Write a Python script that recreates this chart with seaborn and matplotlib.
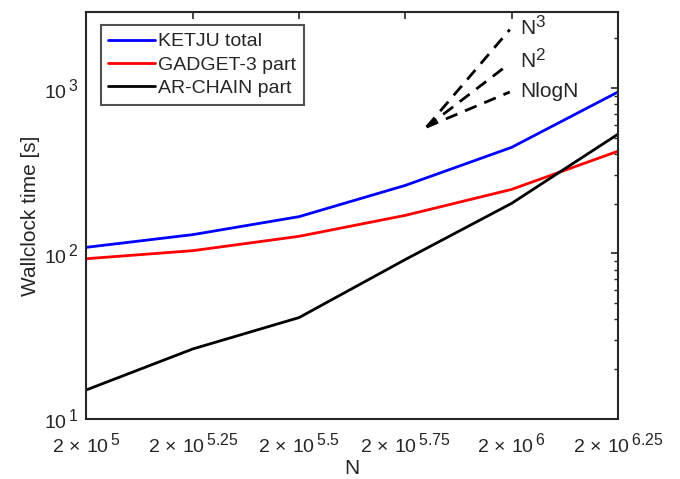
"""
KETJU wallclock scaling plot (log-log).
"""

import numpy as np
import pandas as pd
import matplotlib
matplotlib.use("Agg")
import matplotlib.pyplot as plt
import matplotlib.ticker as mticker
import matplotlib._mathtext as mathtext_internal
import seaborn as sns

# data
n_exp = [5, 5.25, 5.5, 5.75, 6, 6.25]
n_particles = [2e5, 3.557e5, 6.325e5, 1.1247e6, 2e6, 3.557e6]
ketju_total = [109, 130, 167, 258, 438, 946]
gadget_part = [93, 104, 127, 170, 244, 415]
archain_part = [15, 26.5, 41, 92, 201, 526]
series_names = ["KETJU total", "GADGET-3 part", "AR-CHAIN part"]
series_colors = ["#0000ff", "#ff0000", "#000000"]

# scaling guides (start point shared, end points per guide)
guide_x0, guide_y0 = 1.262e6, 581
n3_end = (1.98e6, 2254)
n2_end = (1.93e6, 1340)
nlogn_end = (1.98e6, 946)

sns.set_theme(style="white")
plt.rcParams["font.family"] = ["Liberation Sans", "DejaVu Sans"]
plt.rcParams["mathtext.fontset"] = "custom"
plt.rcParams["mathtext.rm"] = "Liberation Sans"
plt.rcParams["mathtext.it"] = "Liberation Sans"
# MATLAB-like superscripts are less shrunk than mathtext's default 0.7
mathtext_internal.SHRINK_FACTOR = 0.82

df = pd.DataFrame({
    "N": n_particles * 3,
    "time": ketju_total + gadget_part + archain_part,
    "series": [s for s in series_names for _ in n_particles],
})

fig = plt.figure(figsize=(6.8, 4.79), dpi=100)
ax = fig.add_axes([0.1272, 0.1253, 0.7816, 0.8497])

sns.lineplot(data=df, x="N", y="time", hue="series", hue_order=series_names,
             palette=series_colors, linewidth=2, ax=ax)

dash = (0, (4.5, 3))
for end in (n3_end, n2_end, nlogn_end):
    ax.plot([guide_x0, end[0]], [guide_y0, end[1]], color="black", lw=2, linestyle=dash)

ax.text(2.09e6, 2075, r"N$^3$", fontsize=15, va="baseline", ha="left")
ax.text(2.09e6, 1303, r"N$^2$", fontsize=15, va="baseline", ha="left")
ax.text(2.09e6, 879, "NlogN", fontsize=15, va="baseline", ha="left")

ax.set_xscale("log")
ax.set_yscale("log")
ax.set_xlim(n_particles[0], n_particles[-1])
ax.set_ylim(10, 2880)

ax.xaxis.set_major_locator(mticker.FixedLocator(n_particles))
ax.xaxis.set_minor_locator(mticker.NullLocator())
ax.set_xticklabels([r"$2\,\times\,10^{\,%s}$" % (int(e) if e == int(e) else e) for e in n_exp])
ax.yaxis.set_major_locator(mticker.FixedLocator([10, 100, 1000]))
ax.yaxis.set_minor_locator(mticker.LogLocator(base=10, subs=np.arange(2, 10)))
ax.yaxis.set_minor_formatter(mticker.NullFormatter())
ax.set_yticklabels([r"$10^{\,1}$", r"$10^{\,2}$", r"$10^{\,3}$"])

ax.tick_params(which="both", direction="in", top=True, right=True,
               colors="#262626", labelsize=14, labelcolor="#262626")
ax.tick_params(which="major", length=5, width=1.2)
ax.tick_params(axis="x", which="major", pad=9.5)
ax.tick_params(axis="y", which="major", pad=6)
ax.tick_params(which="minor", length=3, width=1)
for sp in ax.spines.values():
    sp.set_color("#262626")
    sp.set_linewidth(1.5)

ax.set_xlabel("N", fontsize=15, color="#262626", labelpad=2)
ax.set_ylabel("Wallclock time [s]", fontsize=15, color="#262626", labelpad=3)

leg = ax.legend(loc="upper left", bbox_to_anchor=(0.0267, 0.968), borderaxespad=0,
                fontsize=14, frameon=True, fancybox=False, edgecolor="#262626",
                handlelength=2.4, handletextpad=0.15, borderpad=0.4, labelspacing=0.3)
leg.get_frame().set_linewidth(1.5)

fig.savefig("out.png", dpi=100)
